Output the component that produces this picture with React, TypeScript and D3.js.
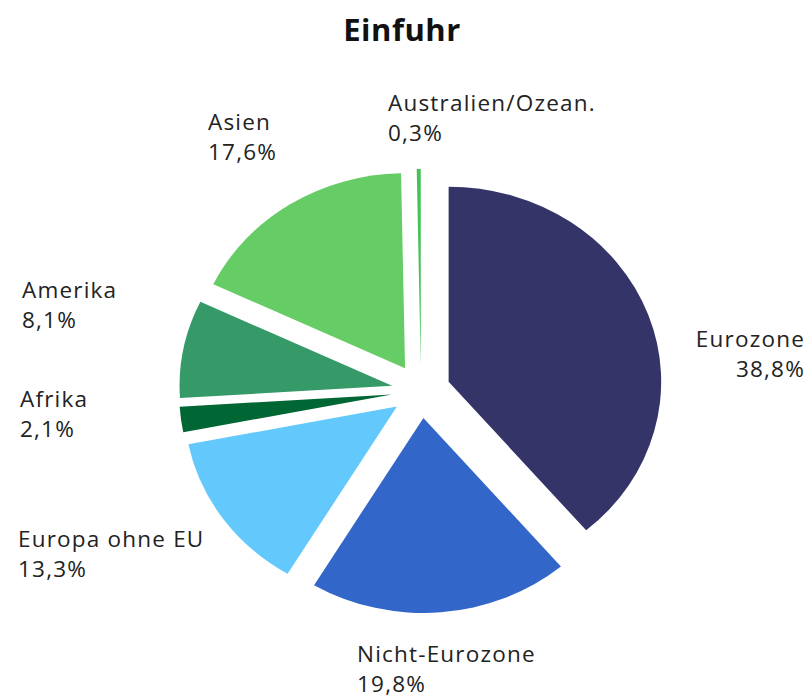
import * as d3 from "d3";
import { useEffect, useRef } from "react";

// Anteile der Einfuhr nach Regionen (Prozent)
const regions = [
  "Eurozone",
  "Nicht-Eurozone",
  "Europa ohne EU",
  "Afrika",
  "Amerika",
  "Asien",
  "Australien/Ozean.",
];
const shares = [38.8, 19.8, 13.3, 2.1, 8.1, 17.6, 0.3];
const valueLabels = ["38,8%", "19,8%", "13,3%", "2,1%", "8,1%", "17,6%", "0,3%"];
const colors = [
  "#353468",
  "#3366c9",
  "#63c8fb",
  "#006633",
  "#359a68",
  "#66cc66",
  "#45c257",
];

// Platzierung der Beschriftungen (Layout)
const labelLayout: { x: number; y: number; anchor: string }[] = [
  { x: 805, y: 347, anchor: "end" },
  { x: 357, y: 662, anchor: "start" },
  { x: 18, y: 547, anchor: "start" },
  { x: 20, y: 407, anchor: "start" },
  { x: 22, y: 298, anchor: "start" },
  { x: 208, y: 130, anchor: "start" },
  { x: 388, y: 111, anchor: "start" },
];

export default function App() {
  const svgRef = useRef<SVGSVGElement | null>(null);

  useEffect(() => {
    if (!svgRef.current) return;
    const width = 810;
    const height = 699;
    const cx = 421;
    const cy = 391;
    const radius = 195;
    const explode = 27;
    const stretchX = 1.09;

    const svg = d3.select(svgRef.current);
    svg.selectAll("*").remove();

    svg
      .append("rect")
      .attr("width", width)
      .attr("height", height)
      .attr("fill", "#fff");

    svg
      .append("text")
      .attr("x", 402)
      .attr("y", 41)
      .attr("text-anchor", "middle")
      .attr("font-family", "'Open Sans', sans-serif")
      .attr("font-weight", 700)
      .attr("font-size", 31)
      .attr("letter-spacing", 0.5)
      .attr("fill", "#111")
      .text("Einfuhr");

    const data = regions.map((name, i) => ({ name, value: shares[i], i }));
    const pie = d3
      .pie<{ name: string; value: number; i: number }>()
      .value((d) => d.value)
      .sort(null)
      .startAngle(0)
      .endAngle(2 * Math.PI);
    const arcs = pie(data);
    const arc = d3
      .arc<d3.PieArcDatum<{ name: string; value: number; i: number }>>()
      .innerRadius(0)
      .outerRadius(radius);

    const g = svg
      .append("g")
      .attr("transform", `translate(${cx},${cy}) scale(${stretchX},1)`);

    g.selectAll("path")
      .data(arcs)
      .enter()
      .append("path")
      .attr("d", arc)
      .attr("fill", (d) => colors[d.data.i])
      .attr("transform", (d) => {
        const mid = (d.startAngle + d.endAngle) / 2;
        return `translate(${Math.sin(mid) * explode},${-Math.cos(mid) * explode})`;
      });

    const labels = svg
      .append("g")
      .attr("font-family", "'Open Sans', sans-serif")
      .attr("font-size", 22.5)
      .attr("letter-spacing", 1.2)
      .attr("fill", "#222");

    regions.forEach((name, i) => {
      const p = labelLayout[i];
      const t = labels
        .append("text")
        .attr("x", p.x)
        .attr("y", p.y)
        .attr("text-anchor", p.anchor);
      t.append("tspan").attr("x", p.x).text(name);
      t.append("tspan").attr("x", p.x).attr("dy", 29.5).text(valueLabels[i]);
    });
  }, []);

  return (
    <svg
      ref={svgRef}
      width={810}
      height={699}
      viewBox="0 0 810 699"
      style={{ position: "absolute", left: 0, top: 0, display: "block" }}
    />
  );
}
